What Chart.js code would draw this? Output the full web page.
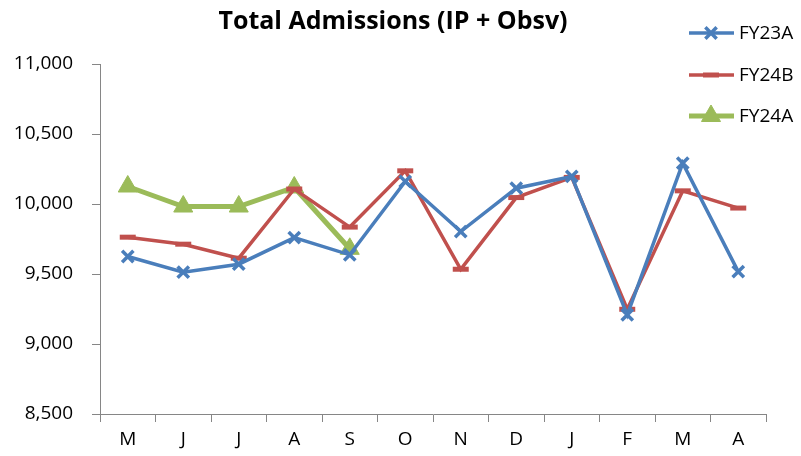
<!DOCTYPE html>
<html>
<head>
<meta charset="utf-8">
<script src="https://cdn.jsdelivr.net/npm/chart.js@4"></script>
<style>
  html, body { margin: 0; padding: 0; background: #fff; }
  #wrap { width: 801px; height: 456px; position: relative; }
</style>
</head>
<body>
<div id="wrap"><canvas id="admChart" width="801" height="456"></canvas></div>
<script>
"use strict";

const months = ["M", "J", "J", "A", "S", "O", "N", "D", "J", "F", "M", "A"];
const fy23a = [9625, 9513, 9570, 9760, 9637, 10161, 9803, 10113, 10197, 9208, 10292, 9517];
const fy24b = [9763, 9713, 9613, 10107, 9835, 10237, 9534, 10046, 10190, 9248, 10094, 9971];
const fy24a = [10125, 9982, 9982, 10118, 9680, null, null, null, null, null, null, null];
const yTicks = [8500, 9000, 9500, 10000, 10500, 11000];

const BLUE = "#4a7ebb";
const RED = "#c0504d";
const GREEN = "#9bbb59";
const AXIS = "#868686";
const FONT = "'Open Sans', 'Liberation Sans', sans-serif";

// title + legend drawn by hand so they can sit where the original has them
const extrasPlugin = {
  id: "extras",
  afterDraw(chart) {
    const ctx = chart.ctx;
    ctx.save();
    ctx.fillStyle = "#000";
    ctx.font = "bold 25px " + FONT;
    ctx.textAlign = "center";
    ctx.textBaseline = "middle";
    ctx.fillText("Total Admissions (IP + Obsv)", 393, 22);

    ctx.font = "19px " + FONT;
    ctx.textAlign = "left";
    const rows = [33, 75, 116];
    chart.data.datasets.forEach((ds, i) => {
      const y = rows[i];
      ctx.strokeStyle = ds.borderColor;
      ctx.fillStyle = ds.backgroundColor;
      ctx.lineWidth = ds.borderWidth;
      ctx.beginPath();
      ctx.moveTo(689, y);
      ctx.lineTo(734, y);
      ctx.stroke();
      ctx.lineWidth = ds.pointBorderWidth;
      Chart.helpers.drawPoint(ctx, {
        pointStyle: ds.pointStyle,
        radius: ds.pointRadius,
        borderWidth: ds.pointBorderWidth,
        rotation: 0
      }, 711, y);
      ctx.fillStyle = "#000";
      ctx.fillText(ds.label, 739, y + 1);
    });
    ctx.restore();
  }
};

const ctx = document.getElementById("admChart").getContext("2d");
new Chart(ctx, {
  type: "line",
  data: {
    labels: months,
    datasets: [
      {
        label: "FY23A",
        data: fy23a,
        borderColor: BLUE,
        backgroundColor: BLUE,
        borderWidth: 3.5,
        pointStyle: "crossRot",
        pointRadius: 8,
        pointBorderWidth: 3.5,
        tension: 0
      },
      {
        label: "FY24B",
        data: fy24b,
        borderColor: RED,
        backgroundColor: RED,
        borderWidth: 3.5,
        pointStyle: "line",
        pointRadius: 8,
        pointBorderWidth: 5,
        tension: 0
      },
      {
        label: "FY24A",
        data: fy24a,
        borderColor: GREEN,
        backgroundColor: GREEN,
        borderWidth: 5,
        pointStyle: "triangle",
        pointRadius: 11,
        pointBorderWidth: 1,
        tension: 0
      }
    ]
  },
  options: {
    responsive: false,
    animation: false,
    layout: { padding: { top: 64, right: 35, left: 0, bottom: 0 } },
    plugins: {
      legend: { display: false },
      title: { display: false },
      tooltip: { enabled: false }
    },
    scales: {
      x: {
        offset: true,
        grid: { offset: true, drawOnChartArea: false, tickLength: 8, color: AXIS },
        border: { color: AXIS, width: 1 },
        ticks: { color: "#000", font: { family: FONT, size: 19 }, padding: 6, maxRotation: 0 },
        afterFit(scale) { scale.height = 42; }
      },
      y: {
        min: yTicks[0],
        max: yTicks[yTicks.length - 1],
        afterBuildTicks(scale) { scale.ticks = yTicks.map(v => ({ value: v })); },
        grid: { drawOnChartArea: false, tickLength: 8, color: AXIS },
        border: { color: AXIS, width: 1 },
        ticks: {
          color: "#000",
          font: { family: FONT, size: 19 },
          padding: 19,
          callback: v => v.toLocaleString("en-US")
        },
        afterFit(scale) { scale.width = 100; }
      }
    }
  },
  plugins: [extrasPlugin]
});
</script>
</body>
</html>
